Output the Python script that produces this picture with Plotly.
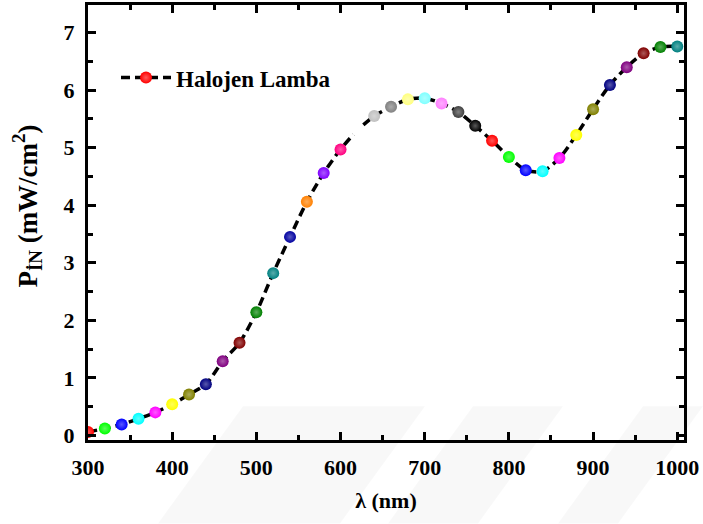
import plotly.graph_objects as go

# Incident power spectrum of the halogen lamp
wavelength_nm = [300, 320, 340, 360, 380, 400, 420, 440, 460, 480,
                 500, 520, 540, 560, 580, 600, 620, 640, 660, 680,
                 700, 720, 740, 760, 780, 800, 820, 840, 860, 880,
                 900, 920, 940, 960, 980, 1000]
power_mw_cm2 = [0.06, 0.12, 0.19, 0.29, 0.40, 0.54, 0.71, 0.89, 1.29, 1.61,
                2.14, 2.82, 3.45, 4.06, 4.56, 4.97, 5.30, 5.55, 5.71, 5.84,
                5.86, 5.77, 5.62, 5.38, 5.12, 4.84, 4.61, 4.59, 4.82, 5.22,
                5.67, 6.09, 6.40, 6.64, 6.75, 6.76]

# Origin-style colour increment list
color_cycle = ["#000000", "#FF0000", "#00FF00", "#0000FF", "#00FFFF", "#FF00FF",
               "#FFFF00", "#808000", "#000080", "#800080", "#800000", "#008000",
               "#008080", "#0000A0", "#FF8000", "#8000FF", "#FF0080", "#FFFFFF",
               "#C0C0C0", "#808080", "#FFFF80", "#80FFFF", "#FF80FF", "#404040"]

x_ticks = [300, 400, 500, 600, 700, 800, 900, 1000]
y_ticks = [0, 1, 2, 3, 4, 5, 6, 7]


def lighten(hex_color, amount=0.35):
    r, g, b = (int(hex_color[i:i + 2], 16) for i in (1, 3, 5))
    mix = lambda c: int(c + (255 - c) * amount)
    return "#{:02X}{:02X}{:02X}".format(mix(r), mix(g), mix(b))


point_colors = [color_cycle[(i + 1) % len(color_cycle)] for i in range(len(wavelength_nm))]
highlight_colors = [lighten(c) for c in point_colors]

serif = "Liberation Serif"

fig = go.Figure()
fig.add_trace(go.Scatter(
    x=wavelength_nm,
    y=power_mw_cm2,
    mode="lines+markers",
    name="Halojen Lamba",
    line=dict(color="black", width=3.5, dash="9px,5px", shape="spline", smoothing=0.8),
    marker=dict(size=12, color=point_colors, line=dict(width=0),
                gradient=dict(type="radial", color=highlight_colors)),
    cliponaxis=True,
))

# faint background emblem below the axes
emblem = [
    (243, 425, 158, 340),
    (473, 563, 388, 478),
    (643, 703, 558, 618),
]
plot_left, plot_right, plot_top, plot_bottom = 88, 684, 2, 440


def px_to_paper(px, py):
    return ((px - plot_left) / (plot_right - plot_left),
            (plot_bottom - py) / (plot_bottom - plot_top))


shapes = []
for tl, tr, bl, br in emblem:
    p1 = px_to_paper(tl, 406)
    p2 = px_to_paper(tr, 406)
    p3 = px_to_paper(br, 524)
    p4 = px_to_paper(bl, 524)
    path = "M {} {} L {} {} L {} {} L {} {} Z".format(*p1, *p2, *p3, *p4)
    shapes.append(dict(type="path", path=path, xref="paper", yref="paper",
                       fillcolor="rgba(0,0,0,0.028)", line=dict(width=0), layer="below"))

axis_common = dict(
    showline=True, linecolor="black", linewidth=3, mirror="allticks",
    ticks="inside", ticklen=8, tickwidth=3, tickcolor="black",
    showgrid=False, zeroline=False,
    tickfont=dict(family=serif, size=22, color="black", weight="bold"),
)

# rotated y-axis title, placed left of the tick labels
ytitle_x, ytitle_y = px_to_paper(27, 205)

fig.update_layout(
    width=703, height=524,
    margin=dict(l=88, r=19, t=2, b=84),
    paper_bgcolor="white",
    plot_bgcolor="rgba(0,0,0,0)",
    showlegend=True,
    legend=dict(x=0.047, y=0.833, xanchor="left", yanchor="middle",
                bgcolor="rgba(0,0,0,0)", itemwidth=50,
                font=dict(family=serif, size=23, color="black", weight="bold")),
    shapes=shapes,
    annotations=[dict(
        text="P<sub>İN</sub> (mW/cm<sup>2</sup>)", textangle=-90,
        xref="paper", yref="paper", x=ytitle_x, y=ytitle_y,
        xanchor="center", yanchor="middle", showarrow=False,
        font=dict(family=serif, size=27, color="black", weight="bold"),
    )],
    xaxis=dict(
        range=[300, 1008], tickvals=x_ticks, ticktext=[str(v) for v in x_ticks],
        minor=dict(ticks="inside", ticklen=5, tickwidth=3, tickcolor="black", dtick=50, tick0=300),
        ticklabelstandoff=6,
        title=dict(text="λ (nm)", standoff=14,
                   font=dict(family=serif, size=22, color="black", weight="bold")),
        **axis_common,
    ),
    yaxis=dict(
        range=[-0.08, 7.48], tickvals=y_ticks, ticktext=[str(v) for v in y_ticks],
        minor=dict(ticks="inside", ticklen=5, tickwidth=3, tickcolor="black", dtick=0.5, tick0=0),
        ticklabelstandoff=6,
        **axis_common,
    ),
)

fig.write_html("out.html")
